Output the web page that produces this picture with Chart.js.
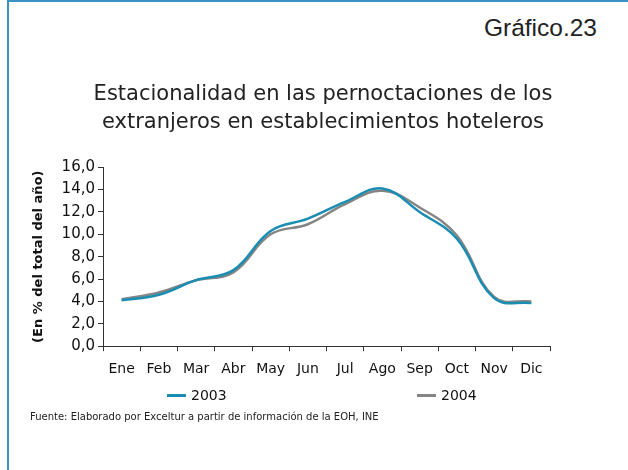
<!DOCTYPE html>
<html>
<head>
<meta charset="utf-8">
<script src="https://cdn.jsdelivr.net/npm/chart.js@4/dist/chart.umd.min.js"></script>
<style>
  body { margin: 0; background: #fff; }
  #page { position: relative; width: 628px; height: 470px; overflow: hidden; }
  #frame { position: absolute; left: 7px; top: 0; width: 640px; height: 480px;
           border-left: 2px solid #3b93c3; border-top: 2px solid #3b93c3; }
  #num { position: absolute; right: 31px; top: 14px; line-height: 1; font: 24.5px "Liberation Sans", Arial, sans-serif; color: #222; }
  #wrap { position: absolute; left: 9px; top: 72px; width: 628px; height: 316px; }
  #legend { position: absolute; top: 386px; left: 0; width: 628px; height: 20px; }
  .item { position: absolute; top: 0; font: 14px "DejaVu Sans", Verdana, sans-serif; line-height: 18px; color: #111; white-space: nowrap; }
  .swatch { display: inline-block; width: 19px; height: 3px; vertical-align: middle; margin-right: 5px; position: relative; top: -1px; }
  #note { position: absolute; left: 30px; top: 410px; font: 10px "DejaVu Sans", Verdana, sans-serif; line-height: 13px; color: #222; }
</style>
</head>
<body>
<div id="page">
  <div id="frame"></div>
  <div id="num">Gráfico.23</div>
  <div id="wrap"><canvas id="chart"></canvas></div>
  <div id="legend"></div>
  <div id="note">Fuente: Elaborado por Exceltur a partir de información de la EOH, INE</div>
</div>
<script>
// Datos
const months = ['Ene', 'Feb', 'Mar', 'Abr', 'May', 'Jun', 'Jul', 'Ago', 'Sep', 'Oct', 'Nov', 'Dic'];
const serie2003 = [4.1, 4.6, 5.9, 6.8, 10.3, 11.4, 12.9, 14.1, 12.0, 9.6, 4.3, 3.85];
const serie2004 = [4.2, 4.8, 5.9, 6.6, 10.0, 10.9, 12.7, 13.9, 12.4, 9.9, 4.4, 4.0];
const yTicks = [0, 2, 4, 6, 8, 10, 12, 14, 16];

const verdana = '"DejaVu Sans", Verdana, sans-serif';
const legendLeft = [167, 417];

document.addEventListener('DOMContentLoaded', function() {
    const ctx = document.getElementById('chart');
    const chart = new Chart(ctx, {
        type: 'line',
        data: {
            labels: months,
            datasets: [{
                label: '2003',
                data: serie2003,
                borderColor: '#1a8db3',
                backgroundColor: '#1a8db3',
                borderWidth: 2.5,
                tension: 0.4,
                pointRadius: 0
            }, {
                label: '2004',
                data: serie2004,
                borderColor: '#858585',
                backgroundColor: '#858585',
                borderWidth: 2.5,
                tension: 0.4,
                pointRadius: 0
            }]
        },
        options: {
            responsive: true,
            maintainAspectRatio: false,
            animation: false,
            layout: { padding: 0 },
            scales: {
                x: {
                    offset: true,
                    grid: { offset: true, drawOnChartArea: false, tickLength: 5, color: '#333' },
                    border: { color: '#333', width: 1 },
                    ticks: { color: '#111', font: { family: verdana, size: 14 }, padding: 10, maxRotation: 0, autoSkip: false }
                },
                y: {
                    min: 0,
                    max: 16,
                    afterBuildTicks: function(axis) {
                        axis.ticks = yTicks.map(v => ({ value: v }));
                    },
                    afterFit: function(axis) {
                        axis.width = 94;
                    },
                    grid: { drawOnChartArea: false, tickLength: 5, color: '#333' },
                    border: { color: '#333', width: 1 },
                    ticks: {
                        color: '#111',
                        font: { family: verdana, size: 15 },
                        padding: 3,
                        callback: function(value) {
                            return value.toFixed(1).replace('.', ',');
                        }
                    },
                    title: {
                        display: true,
                        text: '(En % del total del año)',
                        color: '#111',
                        font: { family: verdana, size: 13, weight: 'bold' },
                        padding: { top: 22, bottom: 0 }
                    }
                },
                // espacio en blanco a la derecha del área de trazado
                margen: {
                    type: 'linear',
                    position: 'right',
                    display: true,
                    afterFit: function(axis) {
                        axis.width = 87;
                    },
                    grid: { display: false },
                    border: { display: false },
                    ticks: { display: false }
                }
            },
            plugins: {
                title: {
                    display: true,
                    text: ['Estacionalidad en las pernoctaciones de los', 'extranjeros en establecimientos hoteleros'],
                    color: '#222',
                    font: { family: verdana, size: 21, weight: 'normal', lineHeight: 1.29 },
                    padding: { top: 9.5, bottom: 31.5 }
                },
                legend: { display: false },
                tooltip: { enabled: false }
            }
        }
    });

    // Leyenda en HTML a partir de los datasets
    const legend = document.getElementById('legend');
    chart.data.datasets.forEach(function(ds, i) {
        const item = document.createElement('div');
        item.className = 'item';
        item.style.left = legendLeft[i] + 'px';
        item.innerHTML = '<span class="swatch" style="background:' + ds.borderColor + '"></span>' + ds.label;
        legend.appendChild(item);
    });
});
</script>
</body>
</html>
